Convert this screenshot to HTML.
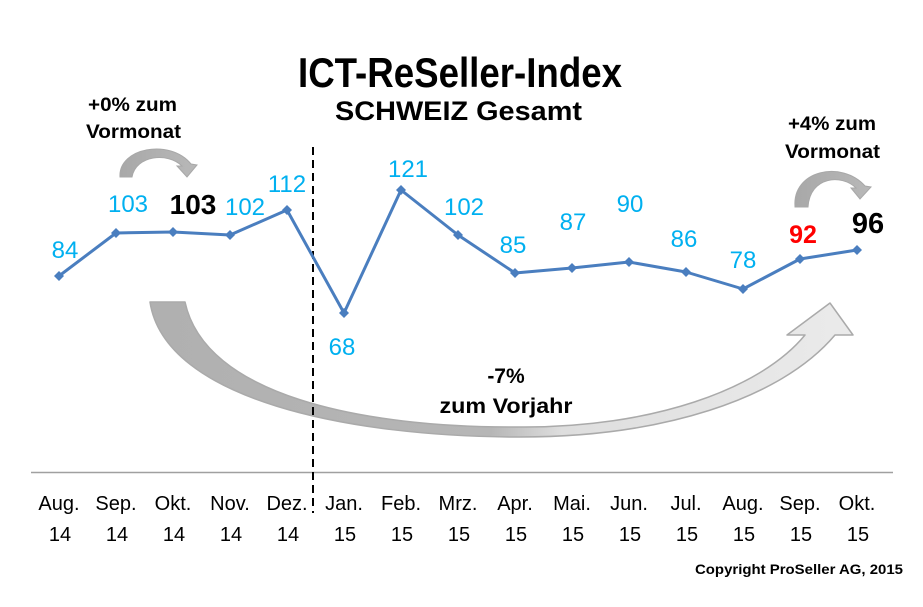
<!DOCTYPE html>
<html>
<head>
<meta charset="utf-8">
<style>
html,body{margin:0;padding:0;background:#fff;}
svg{display:block;}
text{font-family:"Liberation Sans",Arial,sans-serif;}
</style>
</head>
<body>
<svg width="923" height="607" viewBox="0 0 923 607" xmlns="http://www.w3.org/2000/svg">
<defs>
<linearGradient id="bg" gradientUnits="userSpaceOnUse" x1="150" y1="0" x2="860" y2="0">
<stop offset="0" stop-color="#b0b0b0"/>
<stop offset="0.48" stop-color="#b6b6b6"/>
<stop offset="0.58" stop-color="#dedede"/>
<stop offset="1" stop-color="#ebebeb"/>
</linearGradient>
<linearGradient id="sg" x1="0" y1="0" x2="1" y2="0">
<stop offset="0" stop-color="#a8a8a8"/>
<stop offset="1" stop-color="#b8b8b8"/>
</linearGradient>
</defs>
<rect width="923" height="607" fill="#fff"/>

<!-- Titles -->
<text x="298" y="87" font-size="42" font-weight="bold" fill="#000" textLength="324" lengthAdjust="spacingAndGlyphs">ICT-ReSeller-Index</text>
<text x="335" y="120" font-size="27" font-weight="bold" fill="#000" textLength="247" lengthAdjust="spacingAndGlyphs">SCHWEIZ Gesamt</text>

<!-- Big arrow -->
<path d="M150,302 L185,302 C 205,395 360,428 520,427 C 650,428 760,390 805,335 L787,335 L830,303 L853,335 L835,335 C 780,400 660,437 520,437 C 350,437 165,400 150,302 Z" fill="url(#bg)" stroke="#aaaaaa" stroke-width="1.5" stroke-linejoin="round"/>

<!-- Small arrows -->
<path d="M120,177 C 118,148 170,138 191,164 L197,165 L187,177 L177,166 L182,166 C 168,152 136,155 132,177 Z" fill="url(#sg)" stroke="#a8a8a8" stroke-width="1"/>
<path d="M795,207 C 792,170 842,160 865,186 L871,187 L860,199 L851,188 L856,188 C 842,174 810,176 808,207 Z" fill="url(#sg)" stroke="#a8a8a8" stroke-width="1"/>

<!-- Axis line -->
<line x1="31" y1="472.5" x2="893" y2="472.5" stroke="#a0a0a0" stroke-width="1.5"/>

<!-- Dashed divider -->
<line x1="313" y1="147" x2="313" y2="513" stroke="#000" stroke-width="2" stroke-dasharray="8,5"/>

<!-- Series -->
<polyline fill="none" stroke="#4a7ebf" stroke-width="3" stroke-linejoin="round"
points="59,276 116,233 173,232 230,235 287,210 344,313 401,190 458,235 515,273 572,268 629,262 686,272 743,289 800,259 857,250"/>
<g fill="#4a7ebf">
<path d="M59,271 l5,5 l-5,5 l-5,-5z"/>
<path d="M116,228 l5,5 l-5,5 l-5,-5z"/>
<path d="M173,227 l5,5 l-5,5 l-5,-5z"/>
<path d="M230,230 l5,5 l-5,5 l-5,-5z"/>
<path d="M287,205 l5,5 l-5,5 l-5,-5z"/>
<path d="M344,308 l5,5 l-5,5 l-5,-5z"/>
<path d="M401,185 l5,5 l-5,5 l-5,-5z"/>
<path d="M458,230 l5,5 l-5,5 l-5,-5z"/>
<path d="M515,268 l5,5 l-5,5 l-5,-5z"/>
<path d="M572,263 l5,5 l-5,5 l-5,-5z"/>
<path d="M629,257 l5,5 l-5,5 l-5,-5z"/>
<path d="M686,267 l5,5 l-5,5 l-5,-5z"/>
<path d="M743,284 l5,5 l-5,5 l-5,-5z"/>
<path d="M800,254 l5,5 l-5,5 l-5,-5z"/>
<path d="M857,245 l5,5 l-5,5 l-5,-5z"/>
</g>

<!-- Data labels -->
<g font-size="24" fill="#00b0f0" text-anchor="middle">
<text x="65" y="258">84</text>
<text x="128" y="212">103</text>
<text x="245" y="215">102</text>
<text x="287" y="192">112</text>
<text x="342" y="355">68</text>
<text x="408" y="177">121</text>
<text x="464" y="215">102</text>
<text x="513" y="253">85</text>
<text x="573" y="230">87</text>
<text x="630" y="212">90</text>
<text x="684" y="247">86</text>
<text x="743" y="268">78</text>
</g>
<text x="193" y="214" font-size="28" font-weight="bold" fill="#000" text-anchor="middle">103</text>
<text x="803" y="243" font-size="25" font-weight="bold" fill="#ff0000" text-anchor="middle">92</text>
<text x="868" y="233" font-size="29" font-weight="bold" fill="#000" text-anchor="middle">96</text>

<!-- Annotations -->
<g font-size="19" font-weight="bold" fill="#000">
<text x="88" y="111" textLength="89" lengthAdjust="spacingAndGlyphs">+0% zum</text>
<text x="86" y="138" textLength="95" lengthAdjust="spacingAndGlyphs">Vormonat</text>
<text x="788" y="130" textLength="88" lengthAdjust="spacingAndGlyphs">+4% zum</text>
<text x="785" y="158" textLength="95" lengthAdjust="spacingAndGlyphs">Vormonat</text>
</g>
<g font-size="21" font-weight="bold" fill="#000" text-anchor="middle">
<text x="506" y="383">-7%</text>
<text x="506" y="413" textLength="133" lengthAdjust="spacingAndGlyphs">zum Vorjahr</text>
</g>

<!-- X axis labels -->
<g font-size="20" fill="#000" text-anchor="middle">
<text x="59" y="510">Aug.</text><text x="60" y="541">14</text>
<text x="116" y="510">Sep.</text><text x="117" y="541">14</text>
<text x="173" y="510">Okt.</text><text x="174" y="541">14</text>
<text x="230" y="510">Nov.</text><text x="231" y="541">14</text>
<text x="287" y="510">Dez.</text><text x="288" y="541">14</text>
<text x="344" y="510">Jan.</text><text x="345" y="541">15</text>
<text x="401" y="510">Feb.</text><text x="402" y="541">15</text>
<text x="458" y="510">Mrz.</text><text x="459" y="541">15</text>
<text x="515" y="510">Apr.</text><text x="516" y="541">15</text>
<text x="572" y="510">Mai.</text><text x="573" y="541">15</text>
<text x="629" y="510">Jun.</text><text x="630" y="541">15</text>
<text x="686" y="510">Jul.</text><text x="687" y="541">15</text>
<text x="743" y="510">Aug.</text><text x="744" y="541">15</text>
<text x="800" y="510">Sep.</text><text x="801" y="541">15</text>
<text x="857" y="510">Okt.</text><text x="858" y="541">15</text>
</g>

<text x="695" y="574" font-size="14" font-weight="bold" fill="#000" textLength="208" lengthAdjust="spacingAndGlyphs">Copyright ProSeller AG, 2015</text>
</svg>
</body>
</html>
